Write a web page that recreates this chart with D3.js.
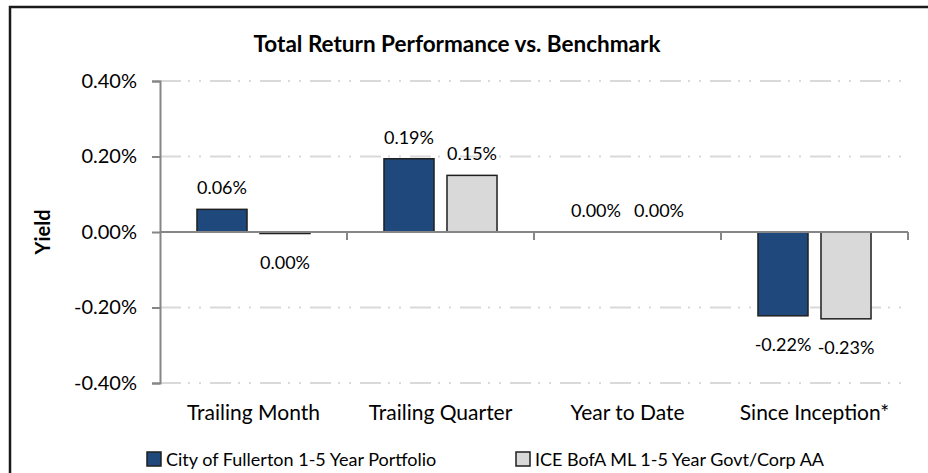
<!DOCTYPE html>
<html lang="en">
  <head>
    <meta charset="UTF-8" />
    <title>Total Return Performance vs. Benchmark</title>
    <script src="https://d3js.org/d3.v7.min.js"></script>
    <style>
      body {
        margin: 0;
        background: #fff;
      }
      text {
        font-family: Lato, "Open Sans", sans-serif;
        fill: #000;
      }
    </style>
  </head>
  <body>
    <svg width="928" height="473"></svg>
    <script>
      const categories = [
        "Trailing Month",
        "Trailing Quarter",
        "Year to Date",
        "Since Inception*",
      ];
      const seriesNames = [
        "City of Fullerton 1-5 Year Portfolio",
        "ICE BofA ML 1-5 Year Govt/Corp AA",
      ];
      // values in percent
      const portfolio = [0.06, 0.194, 0.0, -0.222];
      const benchmark = [-0.004, 0.15, 0.0, -0.23];
      const yTicks = [-0.4, -0.2, 0, 0.2, 0.4];
      const colors = ["#1f497d", "#d9d9d9"];

      const svg = d3.select("svg");
      const left = 160;
      const right = 908;

      const x0 = d3.scaleBand().domain(categories).range([left, right]);
      const x1 = d3
        .scaleBand()
        .domain(seriesNames)
        .range([0, x0.bandwidth()])
        .paddingInner(0.206)
        .paddingOuter(0.587);
      const y = d3.scaleLinear().domain([-0.4, 0.4]).range([383, 81]);

      const pct = d3.formatLocale({
        decimal: ".",
        thousands: ",",
        grouping: [3],
        currency: ["$", ""],
        minus: "-",
      }).format(".2%");
      const fmt = (v) => pct(v / 100);

      const rows = categories.map((c, i) => ({
        cat: c,
        vals: [portfolio[i], benchmark[i]],
      }));

      // frame
      svg
        .append("path")
        .attr("d", "M10,480V7H930")
        .attr("fill", "none")
        .attr("stroke", "#1a1a1a")
        .attr("stroke-width", 2.5);

      // gridlines
      svg
        .append("g")
        .selectAll("line")
        .data(yTicks.filter((t) => t !== 0))
        .join("line")
        .attr("x1", left)
        .attr("x2", right)
        .attr("y1", (d) => y(d))
        .attr("y2", (d) => y(d))
        .attr("stroke", "#d9d9d9")
        .attr("stroke-width", 2)
        .attr("stroke-dasharray", "21,7,2,9,2,9");

      // y axis
      const yAxis = svg
        .append("g")
        .attr("transform", `translate(${left},0)`)
        .call(
          d3
            .axisLeft(y)
            .tickValues(yTicks)
            .tickFormat(fmt)
            .tickSize(8)
            .tickPadding(15)
        );
      yAxis.select(".domain").attr("stroke", "#868686").attr("stroke-width", 2);
      yAxis.selectAll(".tick line").attr("stroke", "#868686").attr("stroke-width", 2);
      yAxis
        .selectAll(".tick text")
        .attr("font-family", "Lato, sans-serif")
        .attr("font-size", 20)
        .attr("fill", "#000");

      // bars
      const groups = svg
        .append("g")
        .selectAll("g")
        .data(rows)
        .join("g")
        .attr("transform", (d) => `translate(${x0(d.cat)},0)`);

      groups
        .selectAll("rect")
        .data((d) => d.vals.map((v, i) => ({ v, s: seriesNames[i], i })))
        .join("rect")
        .attr("x", (d) => x1(d.s))
        .attr("width", x1.bandwidth())
        .attr("y", (d) => y(Math.max(0, d.v)))
        .attr("height", (d) => Math.abs(y(d.v) - y(0)))
        .attr("fill", (d) => colors[d.i])
        .attr("stroke", (d) => (d.v === 0 ? "none" : "#1f1f1f"))
        .attr("stroke-width", 1.5);

      groups
        .selectAll("text")
        .data((d) => d.vals.map((v, i) => ({ v, s: seriesNames[i], i })))
        .join("text")
        .attr("x", (d) => x1(d.s) + x1.bandwidth() / 2)
        .attr("y", (d) => (d.v < 0 ? y(d.v) + 35 : y(d.v) - 15))
        .attr("text-anchor", "middle")
        .attr("font-size", 18)
        .text((d) => fmt(d.v));

      // x axis along zero
      const xAxis = svg
        .append("g")
        .attr("transform", `translate(0,${y(0)})`);
      xAxis
        .append("line")
        .attr("x1", left)
        .attr("x2", right)
        .attr("stroke", "#868686")
        .attr("stroke-width", 2);
      xAxis
        .selectAll("line.tk")
        .data(categories)
        .join("line")
        .attr("class", "tk")
        .attr("x1", (d) => x0(d) + x0.bandwidth())
        .attr("x2", (d) => x0(d) + x0.bandwidth())
        .attr("y1", 0)
        .attr("y2", 8)
        .attr("stroke", "#868686")
        .attr("stroke-width", 2);

      // category labels
      svg
        .append("g")
        .selectAll("text")
        .data(categories)
        .join("text")
        .attr("x", (d) => x0(d) + x0.bandwidth() / 2)
        .attr("y", 420)
        .attr("text-anchor", "middle")
        .attr("font-size", 21)
        .text((d) => d);

      // title
      svg
        .append("text")
        .attr("x", 457)
        .attr("y", 52)
        .attr("text-anchor", "middle")
        .attr("font-size", 22.5)
        .attr("font-weight", "bold")
        .text("Total Return Performance vs. Benchmark");

      // y title
      svg
        .append("text")
        .attr("transform", "translate(50,232) rotate(-90)")
        .attr("text-anchor", "middle")
        .attr("font-size", 20)
        .attr("font-weight", "bold")
        .text("Yield");

      // legend
      const legendX = [147, 516];
      const legend = svg
        .append("g")
        .selectAll("g")
        .data(seriesNames)
        .join("g")
        .attr("transform", (d, i) => `translate(${legendX[i]},452)`);
      legend
        .append("rect")
        .attr("width", 14)
        .attr("height", 14)
        .attr("fill", (d, i) => colors[i])
        .attr("stroke", "#1f1f1f")
        .attr("stroke-width", 1.5);
      legend
        .append("text")
        .attr("x", 19)
        .attr("y", 14)
        .attr("font-size", 18)
        .text((d) => d);
    </script>
  </body>
</html>
